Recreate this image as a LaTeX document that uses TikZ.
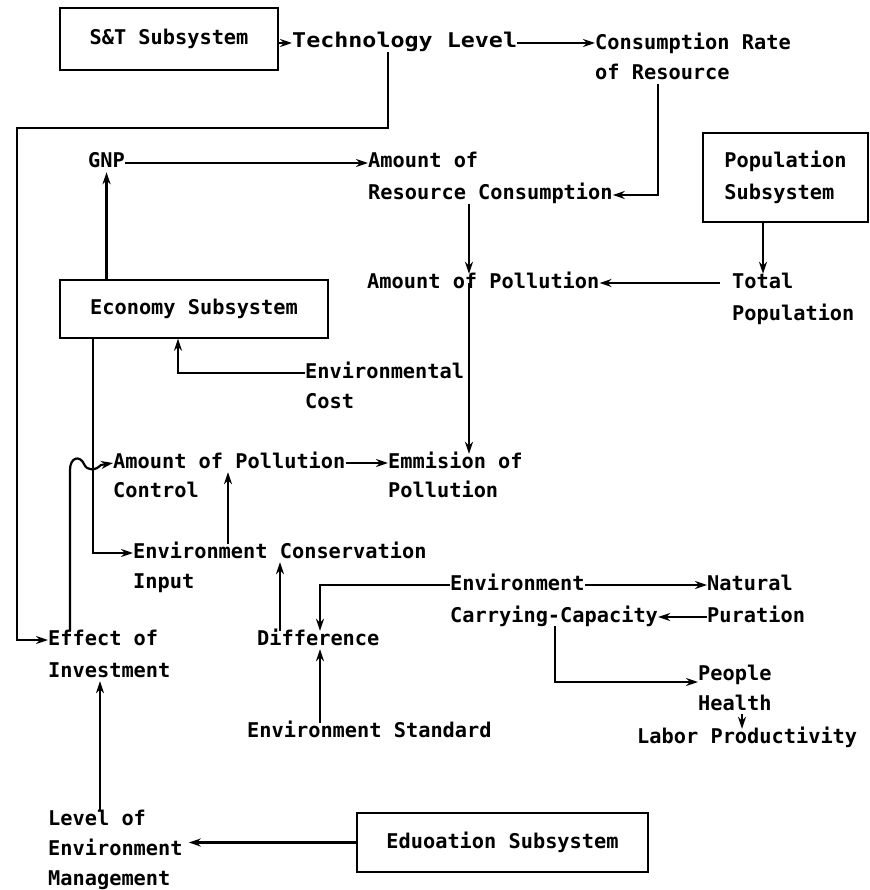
\documentclass[tikz,border=0pt]{standalone}
\usepackage{fontspec}
\usepackage{graphicx}
\setmainfont{DejaVu Sans Mono}
\usetikzlibrary{arrows.meta}
\begin{document}
\begin{tikzpicture}[x=1pt,y=-1pt,
  lbl/.style={anchor=west, inner sep=0pt, font=\fontsize{20.3}{24}\selectfont\bfseries, text height=14pt, text depth=4pt},
  sbox/.style={draw, line width=1.4pt, inner sep=0pt, align=left, font=\fontsize{20.3}{32}\selectfont\bfseries},
  arr/.style={line width=2.2pt, -{Stealth[length=12pt,width=8pt]}},
  ln/.style={line width=2.2pt}]
\useasboundingbox (0,0) rectangle (869,890);

% boxes
\node[sbox, minimum width=218pt, minimum height=62pt] (st) at (169,39) {S\&T Subsystem};
\node[sbox, minimum width=165pt, minimum height=89pt] (pop) at (785.5,177.5) {Population\\Subsystem};
\node[sbox, minimum width=268pt, minimum height=58pt] (eco) at (194,309) {Economy Subsystem};
\node[sbox, minimum width=291pt, minimum height=59pt] (edu) at (502.5,842.5) {Eduoation Subsystem};

% labels
\node[lbl] (tl) at (292,43) {\scalebox{1.15}[1]{Technology Level}};
\node[lbl] (cr1) at (595,45) {Consumption Rate};
\node[lbl] (cr2) at (595,75) {of Resource};
\node[lbl] (gnp) at (88,163) {GNP};
\node[lbl] (ar1) at (368,163) {Amount of};
\node[lbl] (ar2) at (368,195) {Resource Consumption};
\node[lbl] (ap) at (367,283) {Amount of Pollution};
\node[lbl] (tp1) at (732,283) {Total};
\node[lbl] (tp2) at (732,315) {Population};
\node[lbl] (ec1) at (305,373) {Environmental};
\node[lbl] (ec2) at (305,403) {Cost};
\node[lbl] (pc1) at (113,463) {Amount of Pollution};
\node[lbl] (pc2) at (113,492) {Control};
\node[lbl] (em1) at (388,463) {Emmision of};
\node[lbl] (em2) at (388,492) {Pollution};
\node[lbl] (ci1) at (133,553) {Environment Conservation};
\node[lbl] (ci2) at (133,583) {Input};
\node[lbl] (cc1) at (450,585) {Environment};
\node[lbl] (cc2) at (450,617) {Carrying-Capacity};
\node[lbl] (np1) at (707,585) {Natural};
\node[lbl] (np2) at (707,617) {Puration};
\node[lbl] (ei1) at (48,640) {Effect of};
\node[lbl] (ei2) at (48,672) {Investment};
\node[lbl] (df) at (257,640) {Difference};
\node[lbl] (es) at (247,732) {Environment Standard};
\node[lbl] (ph1) at (698,675) {People};
\node[lbl] (ph2) at (698,705) {Health};
\node[lbl] (lp) at (637,738) {Labor Productivity};
\node[lbl] (lm1) at (48,820) {Level of};
\node[lbl] (lm2) at (48,850) {Environment};
\node[lbl] (lm3) at (48,880) {Management};

\coordinate (bendL) at (17,128);

% connectors
\draw[arr] (tl.west -| st.east) -- (tl.west);
\draw[arr] (tl.east) -- (tl.east -| cr1.west);
\draw[arr] ([xshift=96pt]tl.south west) |- (bendL) |- (ei1.west);
\draw[arr] ([xshift=63pt]cr2.south west) |- (ar2.east);
\draw[arr] (gnp.east) -- (ar1.west);
\draw[arr] (eco.north -| gnp.south) -- (gnp.south);
\draw[arr] ([xshift=101pt]ar2.south west) coordinate (c7) -- (c7 |- ap.north);
\draw[arr] (c7 |- ap.west) -- (c7 |- em1.north);
\draw[arr] ([xshift=31pt]tp1.north west |- pop.south) -- ([xshift=31pt]tp1.north west);
\draw[arr] ([xshift=-12pt]tp1.west) -- (ap.east);
\draw[arr] (ec1.west) -| ([xshift=-16pt]eco.south);
\draw[arr] ([xshift=-101pt]eco.south) |- (ci1.west);
\draw[arr] ([xshift=22pt]ei1.north west) -- (70,470) .. controls (70,457) and (80,455) .. (84,464) .. controls (87,471) and (95,471) .. (101,465) -- (pc1.west);
\draw[arr] ([xshift=95pt]ci1.north west) coordinate (c14) -- (c14 |- pc1.south);
\draw[arr] (pc1.east) -- (em1.west);
\draw[arr] ([xshift=23pt]df.north west) coordinate (c16) -- (c16 |- ci1.south);
\draw[arr] (cc1.west) -| ([xshift=63pt]df.north west);
\draw[arr] ([xshift=73pt]es.north west) coordinate (c18) -- (c18 |- df.south);
\draw[arr] (cc1.east) -- (np1.west);
\draw[arr] (np2.west) -- (cc2.east);
\draw[arr] ([xshift=105pt]cc2.south west) |- ([yshift=-7pt]ph1.west);
\draw[arr] ([xshift=44pt]ph2.south west) coordinate (c22) -- (c22 |- lp.north);
\draw[arr] ([xshift=52pt]lm1.north west) coordinate (c23) -- (c23 |- ei2.south);
\draw[arr] (edu.west) -- ([xshift=6pt]lm2.east |- edu.west);
\end{tikzpicture}
\end{document}
